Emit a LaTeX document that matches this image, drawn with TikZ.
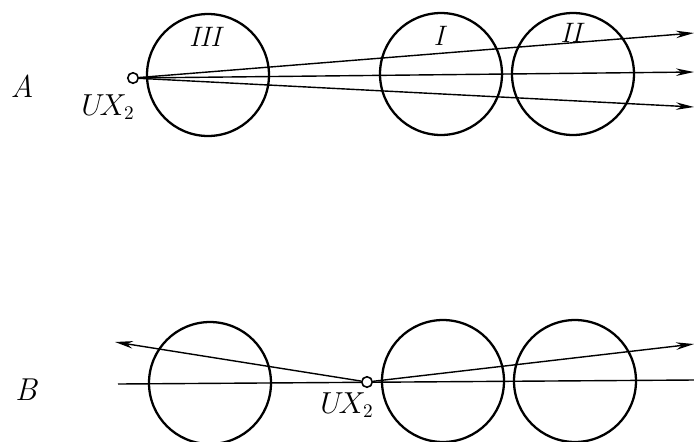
\documentclass[tikz,border=0pt]{standalone}
\usepackage{tikz}
\usetikzlibrary{arrows.meta, positioning, calc}

\begin{document}
\begin{tikzpicture}[
    x=0.02cm, y=-0.02cm,
    ball/.style={circle, draw, line width=1.3pt, minimum size=2.44cm, inner sep=0pt},
    hole/.style={circle, draw, line width=0.9pt, fill=white, minimum size=0.21cm, inner sep=0pt},
    ray/.style={-{Stealth[length=3.6mm, width=1.5mm]}, line width=0.8pt},
    axis/.style={line width=0.8pt},
    lbl/.style={font=\fontsize{16}{18}\selectfont\itshape, inner sep=0pt},
    row/.style={font=\fontsize{18}{20}\selectfont\itshape, inner sep=0pt},
]
\useasboundingbox (0,0) rectangle (694,441);

% row A
\node[row] (la) at (22,86) {A};
\node[ball] (c3) at (208,75) {};
\node[ball] (c1) at (441,74) {};
\node[ball] (c2) at (573,74) {};
\node[lbl] at (205,37) {III};
\node[lbl] at (439,36) {I};
\node[lbl] at (571,33) {II};

\coordinate (ea1) at (694,33);
\coordinate (ea2) at (694,72);
\coordinate (ea3) at (694,107);
\node[hole] (sa) at (133,78) {};
\draw[ray] (sa) -- (ea1);
\draw[ray] (sa) -- (ea2);
\draw[ray] (sa) -- (ea3);
\node[lbl] at (108,107) {$U\!X_2$};

% row B
\node[row] (lb) at (26,390) {B};
\node[ball] (d3) at (210,383) {};
\node[ball] (d1) at (443,381) {};
\node[ball] (d2) at (575,381) {};

\coordinate (bl) at (118,384);
\coordinate (br) at (694,380);
\coordinate (eb1) at (115,342);
\coordinate (eb2) at (694,344);
\draw[axis] (bl) -- (br);
\node[hole] (sb) at (367,382) {};
\draw[ray] (sb) -- (eb1);
\draw[ray] (sb) -- (eb2);
\node[lbl] at (347,405) {$U\!X_2$};

\end{tikzpicture}
\end{document}
